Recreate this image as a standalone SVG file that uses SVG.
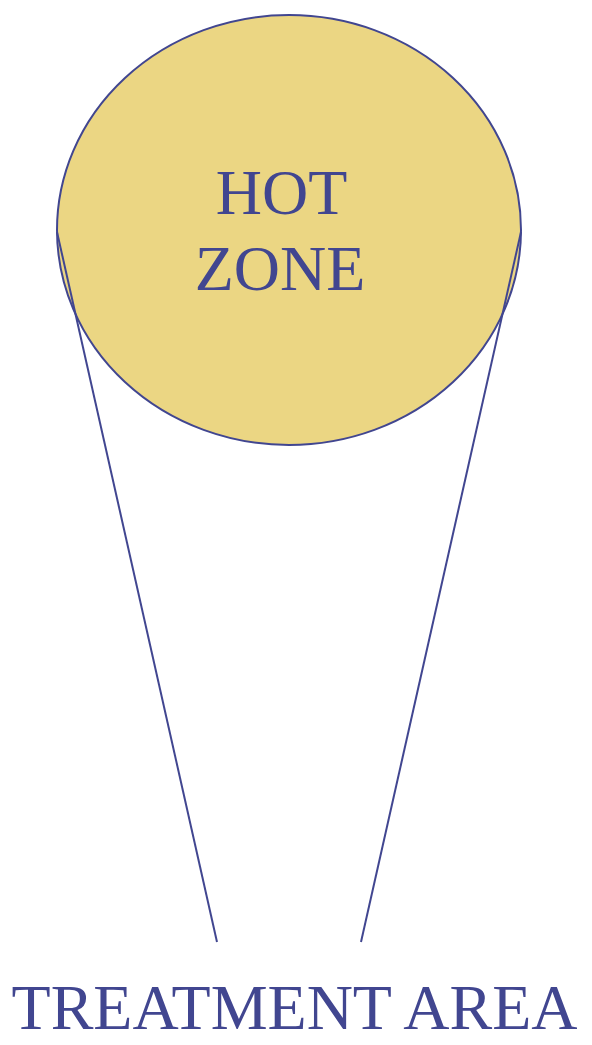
<svg xmlns="http://www.w3.org/2000/svg" width="592" height="1045" viewBox="0 0 592 1045">
<style>
.ln{stroke:#414690;stroke-width:2;fill:none}
.t{font-family:"Liberation Serif","Times New Roman",serif;fill:#414690;text-anchor:middle}
</style>
<rect width="592" height="1045" fill="#ffffff"/>
<g id="hotzone">
<ellipse cx="289" cy="230" rx="232" ry="215" fill="#ebd683" stroke="#414690" stroke-width="2"/>
<text class="t" x="281.5" y="214" font-size="64">HOT</text>
<text class="t" x="280" y="290" font-size="64">ZONE</text>
</g>
<g id="connectors">
<line class="ln" x1="57" y1="232" x2="217" y2="942"/>
<line class="ln" x1="521" y1="232" x2="361" y2="942"/>
</g>
<g id="treatment">
<text class="t" x="294.5" y="1029" font-size="64">TREATMENT AREA</text>
</g>
</svg>
